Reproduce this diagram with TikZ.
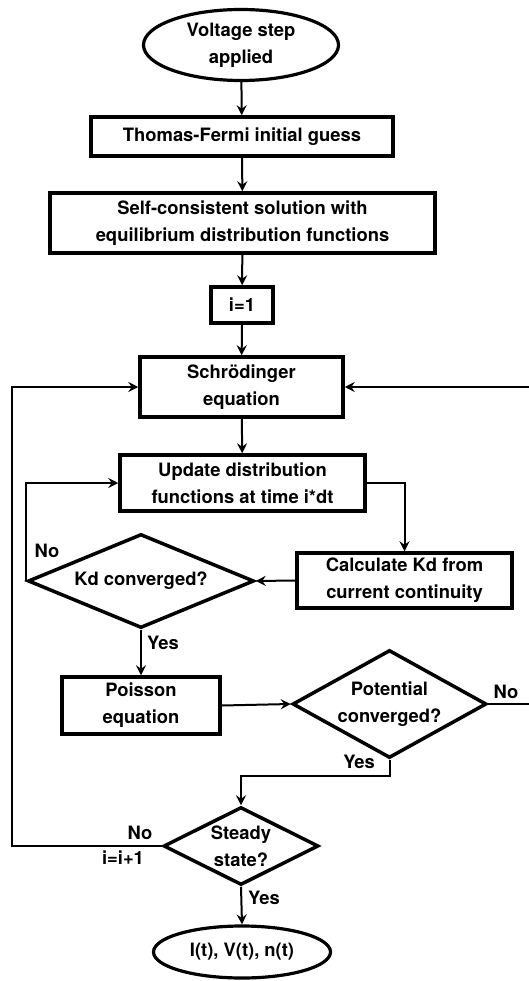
\documentclass[tikz,border=0pt]{standalone}
\usepackage{fontspec}
\setmainfont{TeX Gyre Heros}
\usetikzlibrary{shapes.geometric,arrows.meta}
\tikzset{
  txt/.style={font=\fontsize{18.4}{27}\selectfont\bfseries},
  box/.style={txt,draw,rectangle,line width=3.5pt,inner sep=0pt,align=center},
  oval/.style={txt,draw,ellipse,line width=3.2pt,inner sep=0pt,align=center},
  decision/.style={txt,draw,diamond,line width=3.5pt,inner sep=-8pt,align=center},
  conn/.style={line width=2pt,-{Stealth[length=10pt,width=10pt,inset=3.5pt]}},
  lbl/.style={txt,inner sep=0pt}
}
\begin{document}
\begin{tikzpicture}[x=1pt,y=-1pt]
\useasboundingbox (0,0) rectangle (529,981);
\node[oval,minimum width=195pt,minimum height=71pt] (start) at (241,45) {Voltage step\\applied};
\node[box,minimum width=302pt,minimum height=39pt] (tf) at (242,136.5) {Thomas-Fermi initial guess};
\node[box,minimum width=385pt,minimum height=60pt] (sc) at (242.5,223) {Self-consistent solution with\\equilibrium distribution functions};
\node[box,minimum width=62pt,minimum height=36pt] (i1) at (242,305) {i=1};
\node[box,minimum width=203pt,minimum height=60pt] (sch) at (241.5,387) {Schrödinger\\equation};
\node[box,minimum width=245pt,minimum height=56pt] (upd) at (242.5,483) {Update distribution\\functions at time i*dt};
\node[box,minimum width=215pt,minimum height=55pt] (calc) at (404.5,580.5) {Calculate Kd from\\current continuity};
\node[decision,aspect=2.4,minimum width=226pt,minimum height=94pt] (kd) at (141,581) {Kd converged?};
\node[box,minimum width=158pt,minimum height=57pt] (poi) at (141,705.5) {Poisson\\equation};
\node[decision,aspect=1.8,minimum width=194pt,minimum height=108pt] (pot) at (389.5,704) {Potential\\converged?};
\node[decision,aspect=2,minimum width=155pt,minimum height=78pt] (ss) at (241,846) {Steady\\state?};
\node[oval,minimum width=177pt,minimum height=52pt] (end) at (242,952) {I(t), V(t), n(t)};
\coordinate (lft) at (12,0);
\coordinate (rgt) at (533,0);
\draw[conn] (start) -- (tf);
\draw[conn] (tf) -- (sc);
\draw[conn] (sc) -- (i1);
\draw[conn] (i1) -- (sch);
\draw[conn] (sch) -- (upd);
\draw[conn] (upd.east) -| (calc.north);
\draw[conn] (calc.west) -- (kd.east);
\draw[conn] (kd.west) |- (upd.west);
\draw[conn] (kd.south) -- (poi.north);
\draw[conn] (poi.east) -- (pot.west);
\draw[conn] (pot.east) -- (pot.east -| rgt) |- (sch.east);
\draw[conn] (pot.south) -- ++(0,16) -| (ss.north);
\draw[conn] (ss.west) -- (ss.west -| lft) |- (sch.west);
\draw[conn] (ss.south) -- (end.north);
\node[lbl] (n1) at (47,551) {No};
\node[lbl,anchor=west] (y1) at (147,643) {Yes};
\node[lbl] (n2) at (506,692) {No};
\node[lbl,anchor=east] (y2) at (375,762) {Yes};
\node[lbl] (n3) at (140,833) {No};
\node[lbl] (inc) at (123,858) {i=i+1};
\node[lbl,anchor=west] (y3) at (248,898) {Yes};
\end{tikzpicture}
\end{document}
